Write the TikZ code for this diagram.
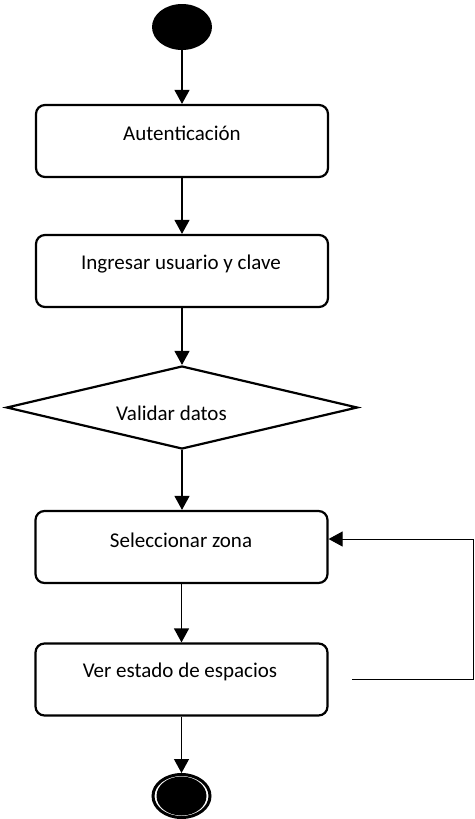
\documentclass[tikz,border=0pt]{standalone}
\usepackage{fontspec}
\setmainfont{Carlito}
\usetikzlibrary{shapes.geometric,arrows.meta}
\begin{document}
\begin{tikzpicture}[x=1pt,y=-1pt,
  actbox/.style={draw,line width=2.2pt,rounded corners=9pt,minimum width=292pt,minimum height=72pt,inner sep=0pt},
  decide/.style={draw,diamond,line width=2.2pt,minimum width=351pt,minimum height=83pt,inner sep=0pt},
  lbl/.style={font=\fontsize{21}{25}\selectfont,inner sep=0pt},
  flow/.style={line width=1.2pt,-{Triangle[width=15pt,length=14pt]}},
  loopline/.style={line width=1pt,-{Triangle[width=15pt,length=14pt]}}]
\useasboundingbox (0,0) rectangle (474,819);

% initial state
\node[ellipse,fill=black,minimum width=60pt,minimum height=46pt,inner sep=0pt] (start) at (182,27) {};

% activities
\node[actbox] (b1) at (182,141) {};
\node[lbl] (t1) at (182,133) {Autenticación};
\node[actbox] (b2) at (182,271) {};
\node[lbl] (t2) at (181,264) {Ingresar usuario y clave};
\node[decide] (d) at (182,407.5) {};
\node[lbl] (t3) at (171.5,413) {Validar datos};
\node[actbox] (b3) at (181.5,547) {};
\node[lbl] (t4) at (181,540) {Seleccionar zona};
\node[actbox] (b4) at (181.5,679.5) {};
\node[lbl] (t5) at (180,672) {Ver estado de espacios};

% final state
\node[ellipse,draw,line width=3pt,minimum width=57pt,minimum height=43pt,inner sep=0pt] (fin) at (181.5,796) {};
\node[ellipse,fill=black,minimum width=50pt,minimum height=39pt,inner sep=0pt] (finc) at (181.5,796) {};

% control flow
\draw[flow] (start.south) -- (b1.north);
\draw[flow] (b1.south) -- (b2.north);
\draw[flow] (b2.south) -- (b2.south |- d.north);
\draw[flow] (d.south) -- (d.south |- b3.north);
\draw[flow] (b3.south) -- (b4.north);
\draw[flow] (b4.south) -- (fin.north);

% return to zone selection
\coordinate (lp) at (352,679);
\coordinate (lc) at (473,539);
\draw[loopline] (lp) -| (lc) -- ([yshift=8pt]b3.east);
\end{tikzpicture}
\end{document}
